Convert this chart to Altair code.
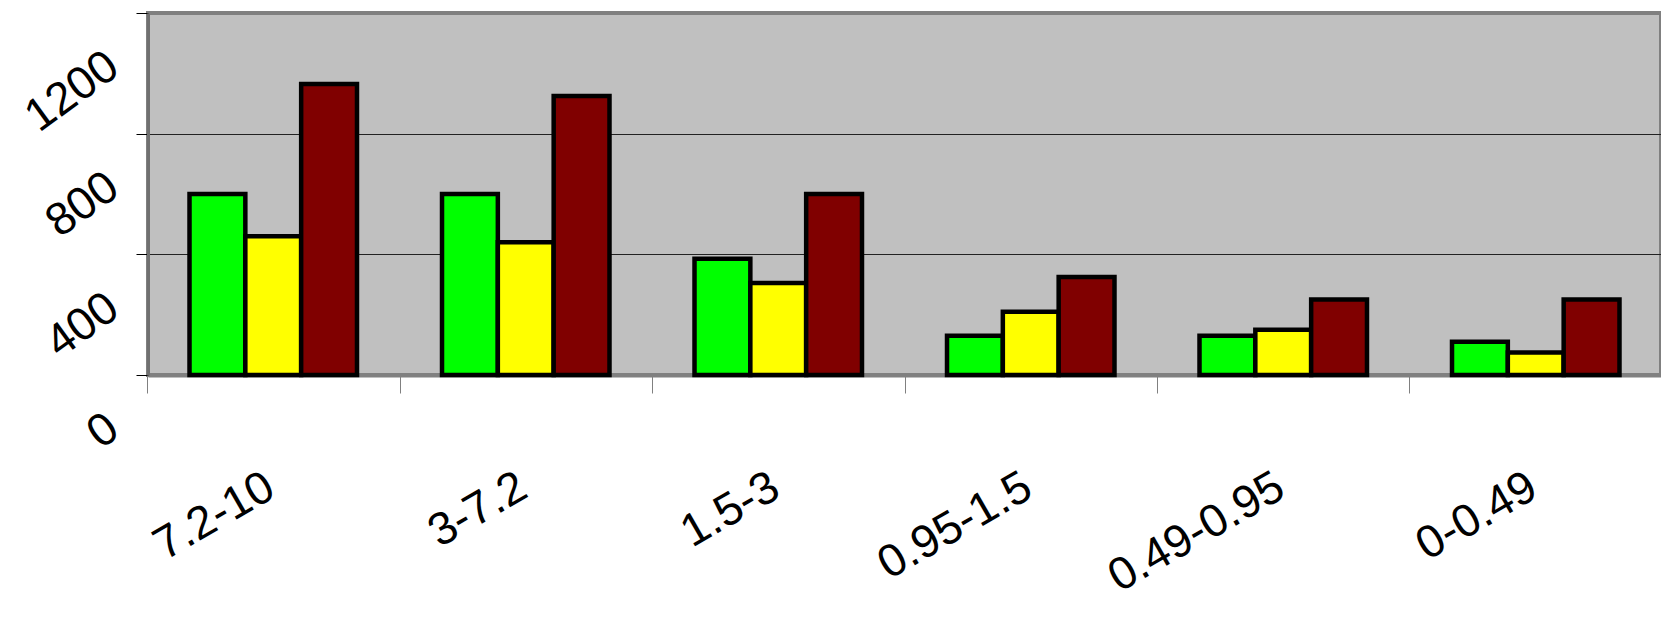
import altair as alt
import pandas as pd

categories = ["7.2-10", "3-7.2", "1.5-3", "0.95-1.5", "0.49-0.95", "0-0.49"]
series_names = ["Series 1", "Series 2", "Series 3"]
series_colors = ["#00FF00", "#FFFF00", "#800000"]
green_vals = [600, 600, 385, 130, 130, 110]
yellow_vals = [460, 440, 305, 210, 150, 75]
red_vals = [965, 925, 600, 325, 250, 250]
y_ticks = [0, 400, 800, 1200]

rows = []
for vals, name in zip([green_vals, yellow_vals, red_vals], series_names):
    for cat, v in zip(categories, vals):
        rows.append({"category": cat, "series": name, "value": v})
df = pd.DataFrame(rows)

FONT = "Liberation Sans"
W = 1513
P_IN = 0.3367
P_OUT = 0.1644
STEP = W / (6 - P_IN + 2 * P_OUT)

chart = (
    alt.Chart(df)
    .mark_bar(stroke="black", strokeWidth=4.5)
    .encode(
        x=alt.X(
            "category:N",
            sort=categories,
            scale=alt.Scale(paddingInner=P_IN, paddingOuter=P_OUT),
            axis=alt.Axis(
                title=None,
                tickOffset=-STEP / 2,
                tickSize=18,
                tickColor="#808080",
                tickWidth=1,
                domainColor="#808080",
                domainWidth=4,
                labelAngle=-30,
                labelAlign="right",
                labelBaseline="top",
                labelPadding=71,
                labelOffset=STEP / 2 - 14,
                labelFontSize=46,
                labelFont=FONT,
                labelColor="black",
                labelOverlap=False,
                labelBound=False,
                labelFlush=False,
                labelLimit=0,
                grid=False,
            ),
        ),
        xOffset=alt.XOffset("series:N", sort=series_names),
        y=alt.Y(
            "value:Q",
            scale=alt.Scale(domain=[0, 1200], nice=False, zero=True),
            axis=alt.Axis(
                title=None,
                values=y_ticks,
                format="d",
                tickSize=12,
                tickColor="black",
                tickWidth=1,
                domainColor="#707070",
                domainWidth=3,
                grid=True,
                gridColor={
                    "condition": {
                        "test": "datum.value == 0 || datum.value == 1200",
                        "value": "transparent",
                    },
                    "value": "#222222",
                },
                gridWidth=1,
                labelAngle=-36,
                labelAlign="right",
                labelBaseline="middle",
                labelPadding=23,
                labelOffset=48,
                labelFontSize=46,
                labelFont=FONT,
                labelColor="black",
                labelOverlap=False,
                labelBound=False,
                labelFlush=False,
                labelLimit=0,
            ),
        ),
        color=alt.Color(
            "series:N",
            sort=series_names,
            scale=alt.Scale(domain=series_names, range=series_colors),
            legend=None,
        ),
    )
    .properties(
        width=W,
        height=362,
        autosize="none",
        padding={"left": 140, "top": 5, "right": 0, "bottom": 236},
    )
    .configure_view(fill="#C0C0C0", stroke="#808080", strokeWidth=4)
)

chart.save("out.html", embed_options={"renderer": "svg", "actions": False})
